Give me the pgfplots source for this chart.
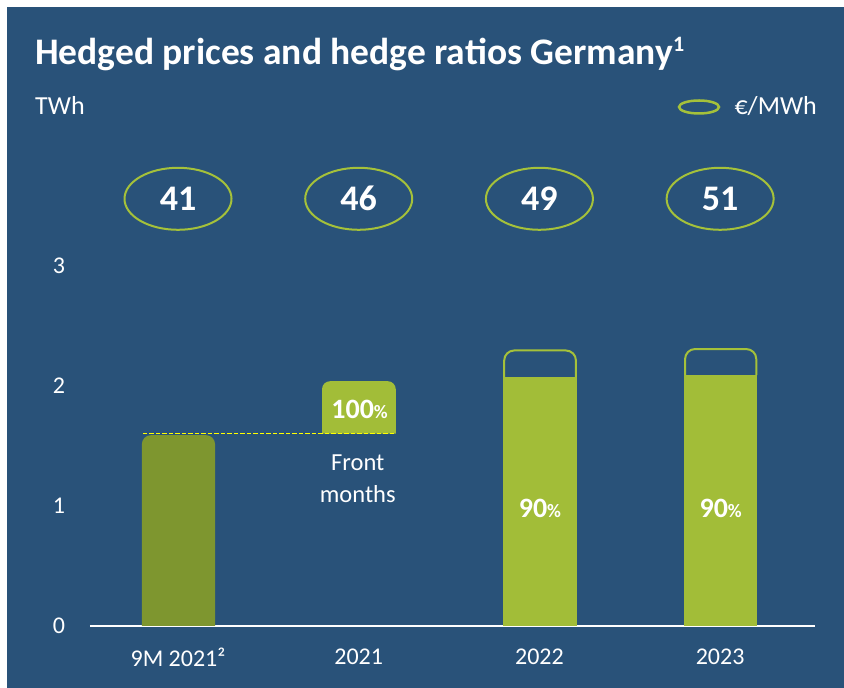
\documentclass[border=0pt]{standalone}
\usepackage{pgfplots}
\pgfplotsset{compat=1.18}
\usepackage{fontspec}
\setmainfont{Carlito}
\usetikzlibrary{shapes.geometric}
\definecolor{bg}{HTML}{295279}
\definecolor{dgreen}{HTML}{7E962F}
\definecolor{lgreen}{HTML}{A2BD38}
\definecolor{egreen}{HTML}{A5C13A}
\definecolor{dashc}{HTML}{FFFF00}
\begin{document}
\begin{tikzpicture}
\fill[white] (0pt,0pt) rectangle (844pt,688pt);
\fill[bg] (7pt,0pt) rectangle (844pt,681pt);
\node[anchor=base west, text=white, inner sep=0, font=\fontsize{37.5}{40}\selectfont\bfseries] at (35pt,623pt) {Hedged prices and hedge ratios Germany\raisebox{13pt}{\fontsize{22}{24}\selectfont 1}};
\node[anchor=base west, text=white, inner sep=0, font=\fontsize{26}{28}\selectfont] at (35pt,573pt) {TWh};
\node[anchor=base east, text=white, inner sep=0, font=\fontsize{26}{28}\selectfont] at (817pt,573pt) {€/MWh};
\draw[egreen, line width=2.5pt] (699pt,581pt) ellipse (20pt and 6.5pt);
\begin{axis}[
  at={(90pt,62pt)}, anchor=south west, scale only axis,
  width=725pt, height=432pt,
  xmin=-0.487, xmax=3.525, ymin=0, ymax=3.6,
  clip=false,
  axis x line=bottom, axis y line=left,
  x axis line style={white, line width=2pt, -},
  y axis line style={draw=none, -},
  tick style={draw=none},
  major tick length=0pt,
  xtick={0,1,2,3},
  xticklabels={9M 2021²,2021,2022,2023},
  ytick={0,1,2,3},
  /pgf/number format/assume math mode=true,
  ticklabel style={text=white, font=\fontsize{24}{26}\selectfont},
  xticklabel style={anchor=center, yshift=-31pt},
  yticklabel style={anchor=center, xshift=-31pt},
]
% 9M 2021 bar
\addplot[fill=dgreen, draw=none, rounded corners=9pt] coordinates {(-0.2,0) (-0.2,1.59) (0.205,1.59) (0.205,0)};
% 2021 front months (floating)
\addplot[fill=lgreen, draw=none, rounded corners=8pt] coordinates {(0.797,1.604) (0.797,2.040) (1.205,2.040) (1.205,1.604)};
% dashed line
\addplot[draw=dashc, line width=1.6pt, dash pattern=on 4.5pt off 2pt] coordinates {(-0.194,1.604) (1.205,1.604)};
% 2022 / 2023 filled
\addplot[fill=lgreen, draw=none] coordinates {(1.799,0) (1.799,2.075) (2.208,2.075) (2.208,0)};
\addplot[fill=lgreen, draw=none] coordinates {(2.800,0) (2.800,2.090) (3.206,2.090) (3.206,0)};
% outlines
\addplot[draw=egreen, line width=2pt, rounded corners=10pt] coordinates {(1.805,2.075) (1.805,2.296) (2.202,2.296) (2.202,2.075)};
\addplot[draw=egreen, line width=2pt, rounded corners=10pt] coordinates {(2.806,2.090) (2.806,2.308) (3.200,2.308) (3.200,2.090)};
% price ellipses
\addplot[draw=none, mark=none, nodes near coords, point meta=explicit symbolic,
  nodes near coords style={anchor=center, ellipse, draw=egreen, line width=2pt,
    minimum width=107pt, minimum height=62pt, inner sep=0pt, text=white,
    font=\fontsize{36}{40}\selectfont\bfseries}]
  coordinates {(0,3.56)[41] (1,3.56)[46] (2,3.56)[49] (3,3.56)[51]};
% labels
\node[anchor=base, text=white, inner sep=0] at (axis cs:1.005,1.725) {\fontsize{28}{30}\selectfont\bfseries 100\fontsize{19}{20}\selectfont\%};
\node[anchor=base, text=white, inner sep=0, font=\fontsize{24.5}{28}\selectfont] at (axis cs:0.995,1.296) {Front};
\node[anchor=base, text=white, inner sep=0, font=\fontsize{24.5}{28}\selectfont] at (axis cs:0.995,1.0275) {months};
\node[anchor=base, text=white, inner sep=0] at (axis cs:2.003,0.908) {\fontsize{28}{30}\selectfont\bfseries 90\fontsize{19}{20}\selectfont\%};
\node[anchor=base, text=white, inner sep=0] at (axis cs:3.003,0.908) {\fontsize{28}{30}\selectfont\bfseries 90\fontsize{19}{20}\selectfont\%};
\end{axis}
\pgfresetboundingbox
\path[use as bounding box] (0pt,0pt) rectangle (844pt,688pt);
\end{tikzpicture}
\end{document}
